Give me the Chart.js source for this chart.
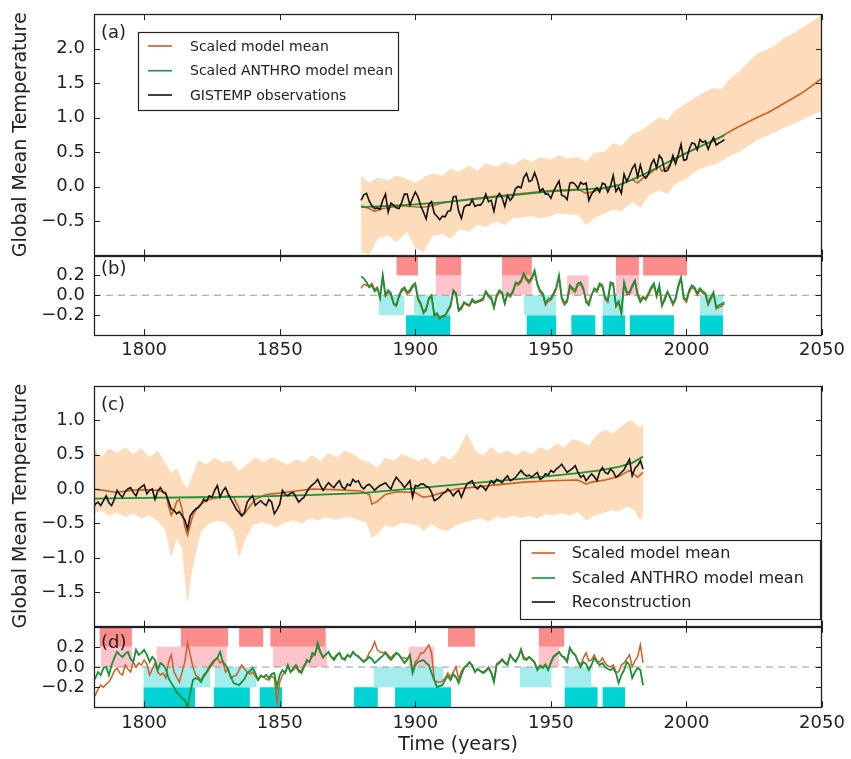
<!DOCTYPE html>
<html>
<head>
<meta charset="utf-8">
<script src="https://cdn.jsdelivr.net/npm/chart.js@4.4.1/dist/chart.umd.min.js"></script>
<style>
  html, body { margin: 0; padding: 0; background: #fff; }
  #wrap { position: relative; width: 851px; height: 759px; overflow: hidden; }
  #wrap canvas { position: absolute; left: 0; }
</style>
</head>
<body>
<div id="wrap">
  <canvas id="panelA" width="851" height="258" style="top:0px"></canvas>
  <canvas id="panelB" width="851" height="122" style="top:250px"></canvas>
  <canvas id="panelC" width="851" height="258" style="top:372px"></canvas>
  <canvas id="panelD" width="851" height="139" style="top:620px"></canvas>
</div>
<script>
// shared x axis
const X_MIN = 1781.5, X_MAX = 2050;
const xTicks = [1800, 1850, 1900, 1950, 2000, 2050];

// ---- panel (a): 1880-2014 observations, model means, ensemble spread ----
const obsStart = 1880;
const gistemp = [
  -0.20, -0.12, -0.10, -0.21, -0.28, -0.32, -0.31, -0.33, -0.20, -0.11,
  -0.37, -0.24, -0.27, -0.31, -0.32, -0.23, -0.11, -0.11, -0.27, -0.17,
  -0.08, -0.15, -0.28, -0.37, -0.47, -0.26, -0.22, -0.39, -0.43, -0.48,
  -0.43, -0.44, -0.36, -0.35, -0.15, -0.14, -0.36, -0.46, -0.30, -0.27,
  -0.27, -0.19, -0.29, -0.27, -0.27, -0.22, -0.11, -0.22, -0.20, -0.36,
  -0.16, -0.10, -0.16, -0.29, -0.13, -0.20, -0.15, -0.03, 0.00, -0.02,
  0.13, 0.19, 0.07, 0.09, 0.20, 0.09, -0.07, -0.03, -0.11, -0.11,
  -0.17, -0.07, 0.01, 0.08, -0.13, -0.14, -0.19, 0.05, 0.06, 0.03,
  -0.03, 0.06, 0.03, 0.05, -0.20, -0.11, -0.06, -0.02, -0.08, 0.05,
  0.03, -0.08, 0.01, 0.16, -0.07, -0.01, -0.10, 0.18, 0.07, 0.16,
  0.26, 0.32, 0.14, 0.31, 0.16, 0.12, 0.18, 0.32, 0.39, 0.27,
  0.45, 0.40, 0.22, 0.23, 0.31, 0.45, 0.33, 0.46, 0.61, 0.38,
  0.39, 0.54, 0.63, 0.62, 0.53, 0.68, 0.64, 0.66, 0.54, 0.64,
  0.71, 0.60, 0.63, 0.65, 0.68
];
const anthroYearsA = [1880, 1890, 1900, 1910, 1920, 1930, 1940, 1950, 1960, 1970, 1975, 1980, 1985, 1990, 1995, 2000, 2005, 2010, 2014];
const anthroA = [-0.30, -0.28, -0.26, -0.23, -0.19, -0.15, -0.11, -0.07, -0.05, -0.02, 0.02, 0.10, 0.19, 0.29, 0.39, 0.49, 0.58, 0.67, 0.74];
const modelYearsA = [1880, 1883, 1885, 1888, 1895, 1902, 1905, 1910, 1920, 1930, 1940, 1950, 1960, 1963, 1966, 1970, 1975, 1980, 1982, 1984,
  1990, 1991, 1993, 1995, 2000, 2005, 2010, 2014, 2018, 2022, 2026, 2030, 2034, 2038, 2042, 2046, 2050];
const modelA = [-0.28, -0.32, -0.36, -0.32, -0.28, -0.30, -0.29, -0.24, -0.18, -0.14, -0.10, -0.06, -0.04, -0.10, -0.07, -0.02, 0.02, 0.10, 0.05, 0.12,
  0.29, 0.22, 0.28, 0.38, 0.48, 0.58, 0.66, 0.75, 0.84, 0.92, 1.00, 1.07, 1.16, 1.25, 1.34, 1.45, 1.57];
const ensYearsA = [1880, 1883, 1886, 1890, 1893, 1897, 1900, 1903, 1906, 1910, 1913, 1916, 1920, 1923, 1926, 1930, 1933, 1936, 1940, 1943,
  1946, 1950, 1953, 1956, 1960, 1963, 1966, 1970, 1973, 1976, 1980, 1983, 1986, 1990, 1993, 1996, 2000, 2003, 2006, 2010,
  2013, 2016, 2020, 2023, 2026, 2030, 2033, 2036, 2040, 2043, 2046, 2050];
const ensUpperA = [0.15, 0.05, 0.12, 0.08, 0.15, 0.10, 0.05, 0.12, 0.18, 0.15, 0.25, 0.20, 0.30, 0.22, 0.33, 0.28, 0.35, 0.30, 0.40, 0.35,
  0.42, 0.38, 0.45, 0.40, 0.42, 0.35, 0.48, 0.50, 0.62, 0.58, 0.75, 0.80, 0.88, 1.00, 0.95, 1.10, 1.20, 1.28, 1.35, 1.42,
  1.40, 1.55, 1.68, 1.80, 1.92, 1.98, 2.05, 2.15, 2.22, 2.30, 2.38, 2.48];
const ensLowerA = [-0.95, -0.98, -0.75, -0.70, -0.80, -0.65, -0.88, -0.95, -0.72, -0.68, -0.75, -0.62, -0.64, -0.55, -0.58, -0.50, -0.55, -0.45, -0.44, -0.42,
  -0.46, -0.42, -0.38, -0.40, -0.40, -0.55, -0.45, -0.38, -0.33, -0.35, -0.22, -0.30, -0.12, -0.05, -0.10, 0.05, 0.12, 0.22, 0.28, 0.32,
  0.38, 0.45, 0.52, 0.60, 0.68, 0.75, 0.80, 0.86, 0.92, 0.98, 1.04, 1.10];

// ---- panel (b): residuals 1880-2014 ----
const residAnthroB = [
  0.19, 0.17, 0.13, 0.08, 0.10, 0.04, 0.07, -0.03, 0.20, 0.00,
  0.05, 0.02, -0.08, -0.10, 0.00, 0.06, 0.08, 0.03, 0.05, 0.10,
  0.12, -0.03, -0.08, -0.18, -0.15, -0.03, 0.00, -0.20, -0.18, -0.23,
  -0.21, -0.20, -0.15, -0.10, 0.05, 0.02, -0.15, -0.12, -0.07, -0.09,
  -0.10, -0.04, -0.07, -0.06, -0.05, -0.03, 0.04, 0.00, -0.02, -0.12,
  0.00, 0.05, 0.03, -0.08, 0.02, 0.00, 0.04, 0.13, 0.12, 0.15,
  0.22, 0.17, 0.14, 0.18, 0.25, 0.12, 0.05, 0.02, -0.08, -0.04,
  -0.03, 0.02, 0.08, 0.20, -0.02, -0.08, -0.05, 0.10, 0.07, 0.05,
  0.12, 0.13, 0.07, -0.07, -0.10, 0.00, 0.07, 0.05, 0.12, 0.10,
  -0.02, -0.05, 0.13, 0.12, -0.10, -0.06, -0.17, 0.13, 0.03, 0.03,
  0.10, 0.15, 0.00, -0.07, -0.03, -0.03, 0.02, 0.08, 0.12, 0.00,
  0.10, -0.10, -0.05, 0.03, -0.02, -0.08, -0.03, 0.10, 0.18, -0.02,
  -0.05, 0.05, 0.10, 0.08, 0.02, 0.07, 0.04, 0.02, -0.08, -0.02,
  0.03, -0.12, -0.10, -0.09, -0.07
];
const residModelB = [
  0.07, 0.11, 0.10, 0.09, 0.12, 0.06, 0.08, -0.01, 0.19, -0.01,
  0.03, 0.00, -0.09, -0.11, -0.02, 0.04, 0.06, 0.01, 0.03, 0.08,
  0.10, -0.05, -0.10, -0.16, -0.13, -0.04, -0.02, -0.21, -0.19, -0.24,
  -0.22, -0.21, -0.16, -0.12, 0.03, 0.01, -0.16, -0.14, -0.08, -0.10,
  -0.11, -0.06, -0.08, -0.07, -0.06, -0.05, 0.03, -0.02, -0.04, -0.13,
  -0.02, 0.03, 0.01, -0.09, 0.01, -0.02, 0.02, 0.11, 0.10, 0.13,
  0.20, 0.15, 0.12, 0.16, 0.23, 0.10, 0.03, 0.00, -0.10, -0.06,
  -0.05, 0.00, 0.06, 0.18, -0.04, -0.10, -0.07, 0.08, 0.05, 0.03,
  0.10, 0.11, 0.05, -0.05, -0.07, 0.01, 0.05, 0.03, 0.10, 0.08,
  -0.04, -0.07, 0.11, 0.10, -0.12, -0.08, -0.19, 0.11, 0.01, 0.01,
  0.08, 0.13, 0.02, -0.04, -0.01, -0.05, 0.00, 0.06, 0.10, -0.02,
  0.08, -0.11, -0.02, 0.04, -0.03, -0.10, -0.05, 0.08, 0.16, -0.04,
  -0.07, 0.03, 0.08, 0.06, 0.00, 0.05, 0.02, 0.00, -0.10, -0.04,
  0.01, -0.14, -0.12, -0.11, -0.09
];
// warm / cool periods (start year, end year)
const warmStrongB = [[1893, 1901], [1907.5, 1917], [1932, 1943], [1974, 1982.5], [1984, 2000.3]];
const warmWeakB = [[1907.5, 1917], [1932, 1943], [1956, 1964], [1974, 1982.5]];
const coolWeakB = [[1886.5, 1896], [1899.5, 1913], [1940, 1952], [1969, 1977], [2005, 2013.5]];
const coolStrongB = [[1896.5, 1913], [1941, 1952], [1957.5, 1966.5], [1969, 1977.5], [1979, 1995.5], [2005, 2013.5]];

// ---- panel (c): reconstruction 1781-1984 ----
const reconStart = 1781;
const reconstruction = [
  -0.29, -0.22, -0.19, -0.24, -0.17, -0.10, -0.20, -0.24, -0.15, -0.02,
  -0.08, -0.12, -0.04, 0.00, 0.02, -0.05, -0.10, 0.00, 0.03, 0.06,
  -0.07, -0.02, 0.00, -0.15, -0.03, 0.02, -0.05, -0.07, -0.18, -0.29,
  -0.31, -0.36, -0.33, -0.39, -0.45, -0.58, -0.39, -0.33, -0.29, -0.27,
  -0.22, -0.15, -0.18, -0.10, -0.12, -0.02, 0.05, -0.12, -0.03, 0.02,
  -0.07, -0.15, -0.22, -0.30, -0.34, -0.39, -0.34, -0.19, -0.14, -0.10,
  -0.24, -0.20, -0.17, -0.21, -0.24, -0.15, -0.19, -0.36, -0.30, -0.22,
  -0.02, -0.08, -0.10, -0.06, -0.05, -0.12, -0.19, -0.15, -0.12, -0.04,
  0.02, 0.06, 0.09, 0.14, 0.05, -0.02, 0.04, 0.09, 0.05, 0.02,
  0.08, 0.12, 0.03, 0.00, 0.07, 0.05, 0.14, 0.10, 0.12, 0.04,
  0.00, 0.05, 0.07, 0.03, -0.02, 0.02, 0.05, 0.07, 0.09, 0.04,
  0.00, 0.10, 0.17, 0.12, 0.08, 0.02, 0.07, 0.12, -0.12, 0.05,
  0.04, 0.07, 0.07, 0.04, 0.02, -0.05, -0.17, -0.15, -0.12, -0.07,
  -0.05, 0.00, -0.04, -0.10, -0.05, -0.02, -0.12, -0.02, 0.07, 0.10,
  0.12, 0.03, 0.00, 0.05, 0.03, -0.02, 0.05, 0.12, 0.08, 0.14,
  0.12, 0.09, 0.15, 0.19, 0.12, 0.14, 0.17, 0.22, 0.27, 0.22,
  0.19, 0.20, 0.17, 0.21, 0.24, 0.14, 0.16, 0.22, 0.20, 0.27,
  0.24, 0.29, 0.32, 0.36, 0.30, 0.24, 0.27, 0.30, 0.34, 0.24,
  0.17, 0.20, 0.12, 0.17, 0.22, 0.18, 0.12, 0.25, 0.31, 0.24,
  0.22, 0.29, 0.25, 0.17, 0.20, 0.24, 0.28, 0.36, 0.43, 0.19,
  0.30, 0.34, 0.41, 0.29
];
const anthroYearsC = [1781, 1800, 1820, 1840, 1860, 1880, 1900, 1920, 1940, 1950, 1960, 1968, 1975, 1980, 1984];
const anthroC = [-0.14, -0.13, -0.12, -0.11, -0.09, -0.06, 0.01, 0.08, 0.15, 0.19, 0.23, 0.27, 0.32, 0.38, 0.47];
const modelYearsC = [1781, 1785, 1790, 1795, 1800, 1805, 1808, 1809, 1810, 1811, 1812, 1813, 1814, 1815, 1816, 1817, 1818, 1820, 1823, 1828,
  1831, 1833, 1835, 1836, 1837, 1839, 1841, 1845, 1850, 1856, 1862, 1870, 1880, 1883, 1884, 1886, 1889, 1893, 1900, 1902,
  1903, 1906, 1910, 1915, 1920, 1925, 1930, 1940, 1950, 1960, 1963, 1965, 1970, 1975, 1979, 1981, 1982, 1984];
const modelC = [0.00, -0.02, -0.05, -0.02, -0.01, -0.02, -0.05, -0.25, -0.38, -0.30, -0.18, -0.15, -0.30, -0.55, -0.67, -0.52, -0.38, -0.25, -0.16, -0.12,
  -0.10, -0.12, -0.28, -0.39, -0.36, -0.25, -0.15, -0.08, -0.06, -0.03, 0.00, -0.01, -0.03, -0.08, -0.22, -0.18, -0.08, -0.04, -0.05, -0.10,
  -0.12, -0.10, -0.05, 0.00, 0.02, 0.04, 0.06, 0.10, 0.12, 0.13, 0.07, 0.10, 0.13, 0.18, 0.27, 0.20, 0.17, 0.24];
const ensUpperYearsC = [1781, 1784, 1787, 1790, 1793, 1796, 1799, 1802, 1805, 1808, 1810, 1812, 1814, 1816, 1818, 1820, 1823, 1826, 1829, 1832,
  1835, 1838, 1841, 1844, 1847, 1850, 1853, 1856, 1859, 1862, 1865, 1868, 1871, 1874, 1877, 1880, 1883, 1886, 1889, 1892,
  1895, 1898, 1901, 1904, 1907, 1910, 1913, 1916, 1919, 1922, 1925, 1928, 1931, 1934, 1937, 1940, 1943, 1946, 1949, 1952,
  1955, 1958, 1961, 1964, 1967, 1970, 1973, 1976, 1979, 1981, 1983, 1984];
const ensUpperC = [0.60, 0.45, 0.58, 0.52, 0.60, 0.50, 0.58, 0.45, 0.55, 0.35, 0.22, 0.30, 0.10, 0.00, 0.20, 0.41, 0.35, 0.45, 0.38, 0.40,
  0.25, 0.35, 0.45, 0.38, 0.45, 0.40, 0.35, 0.42, 0.38, 0.48, 0.40, 0.52, 0.45, 0.55, 0.50, 0.42, 0.38, 0.30, 0.45, 0.40,
  0.50, 0.45, 0.40, 0.45, 0.35, 0.48, 0.42, 0.55, 0.80, 0.55, 0.48, 0.60, 0.50, 0.55, 0.48, 0.55, 0.50, 0.60, 0.55, 0.65,
  0.60, 0.72, 0.68, 0.62, 0.78, 0.85, 0.80, 0.90, 0.99, 0.95, 0.88, 0.95];
const ensLowerYearsC = [1781, 1784, 1787, 1790, 1793, 1796, 1799, 1802, 1805, 1808, 1810, 1812, 1814, 1816, 1817, 1819, 1821, 1824, 1827, 1830,
  1833, 1835, 1837, 1840, 1843, 1846, 1849, 1852, 1855, 1858, 1861, 1864, 1867, 1870, 1873, 1876, 1879, 1882, 1884, 1886,
  1889, 1892, 1895, 1898, 1901, 1903, 1906, 1909, 1912, 1915, 1918, 1921, 1924, 1927, 1930, 1933, 1936, 1939, 1942, 1945,
  1948, 1951, 1954, 1957, 1960, 1963, 1966, 1969, 1972, 1975, 1978, 1981, 1983, 1984];
const ensLowerC = [-0.36, -0.30, -0.38, -0.33, -0.40, -0.35, -0.42, -0.38, -0.46, -0.60, -0.97, -0.70, -0.85, -1.62, -1.30, -0.90, -0.60, -0.50, -0.45, -0.48,
  -0.60, -0.97, -0.75, -0.52, -0.48, -0.50, -0.55, -0.48, -0.45, -0.50, -0.42, -0.45, -0.40, -0.44, -0.42, -0.40, -0.45, -0.48, -0.70, -0.65,
  -0.52, -0.55, -0.48, -0.50, -0.52, -0.60, -0.50, -0.58, -0.60, -0.52, -0.48, -0.45, -0.42, -0.47, -0.40, -0.42, -0.38, -0.42, -0.38, -0.42,
  -0.36, -0.38, -0.35, -0.38, -0.33, -0.45, -0.38, -0.35, -0.30, -0.32, -0.25, -0.30, -0.45, -0.35];

// ---- panel (d): residuals 1781-1984 ----
const residAnthroD = [
  -0.14, -0.11, -0.05, -0.08, -0.01, 0.00, -0.08, 0.02, 0.09, 0.15,
  0.12, 0.10, 0.13, 0.15, 0.08, 0.05, 0.17, 0.12, 0.14, 0.17,
  0.12, 0.05, 0.10, 0.07, -0.03, 0.04, 0.02, -0.02, -0.11, -0.16,
  -0.20, -0.25, -0.28, -0.31, -0.33, -0.40, -0.26, -0.13, -0.11, -0.12,
  -0.15, -0.08, -0.05, 0.00, 0.04, 0.07, 0.09, 0.15, 0.05, 0.02,
  -0.03, -0.10, -0.16, -0.17, -0.18, -0.15, -0.12, -0.06, -0.04, -0.01,
  -0.06, -0.13, -0.09, -0.10, -0.08, -0.11, -0.07, -0.06, -0.20, -0.08,
  -0.03, -0.06, 0.02, -0.05, -0.01, 0.02, -0.03, -0.06, 0.00, 0.07,
  0.05, 0.14, 0.12, 0.24, 0.15, 0.10, 0.12, 0.15, 0.10, 0.07,
  0.11, 0.14, 0.09, 0.07, 0.12, 0.10, 0.15, 0.12, 0.10, 0.08,
  0.05, 0.07, 0.10, 0.08, 0.04, 0.06, 0.09, 0.11, 0.14, 0.10,
  0.07, 0.10, 0.14, 0.12, 0.08, 0.04, 0.07, 0.12, -0.06, 0.02,
  0.05, 0.06, 0.07, 0.04, 0.02, -0.06, -0.13, -0.20, -0.19, -0.18,
  -0.13, -0.09, -0.13, -0.07, -0.10, -0.16, -0.08, -0.01, 0.02, 0.05,
  0.01, -0.05, -0.02, -0.04, -0.06, -0.04, -0.01, -0.06, -0.15, 0.02,
  0.04, 0.07, 0.04, 0.02, 0.12, 0.08, 0.05, 0.10, 0.17, 0.08,
  0.07, 0.10, 0.07, 0.04, -0.03, 0.01, -0.01, 0.02, -0.03, 0.04,
  0.10, 0.12, 0.15, 0.11, 0.09, 0.05, 0.19, 0.14, 0.12, 0.05,
  0.00, 0.05, 0.03, -0.03, 0.02, 0.09, 0.05, 0.02, 0.04, 0.00,
  -0.02, -0.03, -0.01, -0.06, -0.16, -0.08, -0.03, 0.05, 0.02, -0.11,
  -0.05, -0.01, -0.03, -0.18
];
const residModelD = [
  -0.30, -0.28, -0.22, -0.18, -0.20, -0.17, -0.15, -0.10, -0.04, -0.01,
  -0.06, -0.08, 0.02, -0.02, -0.05, 0.05, 0.00, 0.04, 0.02, 0.07,
  0.03, -0.08, -0.02, 0.04, -0.05, -0.08, -0.06, -0.11, 0.05, 0.12,
  -0.05, -0.10, -0.15, -0.05, 0.05, 0.24, 0.12, 0.00, -0.08, -0.10,
  -0.13, -0.10, -0.06, -0.02, 0.02, 0.06, 0.09, 0.04, 0.06, -0.05,
  -0.02, -0.11, -0.09, -0.08, -0.03, 0.02, -0.02, -0.05, -0.07, -0.05,
  -0.09, -0.13, -0.08, -0.10, -0.12, -0.13, -0.09, -0.11, -0.35, -0.15,
  -0.08, -0.05, 0.00, -0.05, -0.03, 0.00, -0.05, -0.03, 0.02, 0.05,
  0.06, 0.10, 0.14, 0.20, 0.14, 0.09, 0.13, 0.14, 0.10, 0.09,
  0.12, 0.14, 0.08, 0.09, 0.12, 0.10, 0.14, 0.12, 0.11, 0.07,
  0.06, 0.08, 0.14, 0.18, 0.25, 0.17, 0.15, 0.14, 0.15, 0.12,
  0.09, 0.12, 0.14, 0.12, 0.09, 0.09, 0.08, 0.12, -0.05, 0.05,
  0.08, 0.14, 0.14, 0.18, 0.22, 0.14, -0.13, -0.15, -0.15, -0.14,
  -0.11, -0.06, -0.10, -0.05, 0.00, -0.12, -0.04, 0.00, 0.01, 0.04,
  0.02, -0.04, -0.02, -0.04, -0.05, -0.03, 0.00, -0.05, -0.13, 0.03,
  0.05, 0.08, 0.05, 0.03, 0.12, 0.08, 0.06, 0.10, 0.18, 0.10,
  0.08, 0.10, 0.08, 0.05, -0.02, 0.02, 0.00, 0.03, -0.02, 0.05,
  0.11, 0.13, 0.15, 0.11, 0.10, 0.06, 0.19, 0.15, 0.12, 0.06,
  0.02, 0.09, 0.14, 0.06, 0.07, 0.12, 0.06, 0.05, 0.09, 0.04,
  0.01, 0.00, 0.02, -0.05, -0.05, 0.02, 0.04, 0.08, 0.12, 0.00,
  0.06, 0.10, 0.22, 0.04
];
const warmStrongD = [[1783.5, 1795.5], [1813.5, 1831], [1835, 1844], [1846.5, 1867], [1912, 1922], [1945.5, 1955]];
const warmWeakD = [[1784, 1795.5], [1804.5, 1830.5], [1847.5, 1867.5], [1897.5, 1907], [1945.5, 1953]];
const coolWeakD = [[1799.7, 1824.3], [1826, 1841.5], [1884.6, 1910.4], [1938.6, 1950.3], [1955, 1965]];
const coolStrongD = [[1799.7, 1818.8], [1825.6, 1839], [1842.5, 1851], [1877.4, 1886.2], [1892.5, 1913.2], [1955, 1967.3], [1969, 1977.4]];

const ORANGE = '#cc5f26', GREEN = '#1a9038', BLACK = '#111111', PEACH = '#fddcbb';

Chart.defaults.font.family = '"DejaVu Sans", sans-serif';
Chart.defaults.color = '#222';

function yearsFrom(start, n) {
  const out = [];
  for (let i = 0; i < n; i++) out.push(start + i);
  return out;
}

function series(xs, ys, color, width, order) {
  return {
    data: xs.map((x, i) => ({x: x, y: ys[i]})),
    borderColor: color, borderWidth: width, pointRadius: 0,
    fill: false, tension: 0, order: order
  };
}

function band(xsUp, up, xsLow, low) {
  return [
    { data: xsUp.map((x, i) => ({x: x, y: up[i]})), borderColor: PEACH, borderWidth: 1,
      backgroundColor: PEACH, pointRadius: 0, fill: '+1', tension: 0, order: 15 },
    { data: xsLow.map((x, i) => ({x: x, y: low[i]})), borderColor: PEACH, borderWidth: 1,
      pointRadius: 0, fill: false, tension: 0, order: 15 }
  ];
}

function blocks(spans, lo, hi, color) {
  return spans.map(s => ({
    data: [{x: s[0], y: hi}, {x: s[1], y: hi}],
    borderWidth: 0, borderColor: color, backgroundColor: color,
    pointRadius: 0, fill: {value: lo}, order: 20
  }));
}

function zeroLine() {
  return { data: [{x: X_MIN, y: 0}, {x: X_MAX, y: 0}], borderColor: '#999', borderWidth: 1.2,
    borderDash: [7, 5], pointRadius: 0, fill: false, order: 10 };
}

const fmtY = v => (v < 0 ? '\u2212' : '') + Math.abs(v).toFixed(1);

// frame with inward ticks, panel letter and legend box
const panelDecor = {
  id: 'panelDecor',
  afterDatasetsDraw(chart, args, opts) {
    const {ctx, chartArea: a, scales: {x, y}} = chart;
    const TL = 6;
    ctx.save();
    ctx.strokeStyle = '#222';
    ctx.lineWidth = 1;
    ctx.beginPath();
    xTicks.forEach(v => {
      const px = Math.round(x.getPixelForValue(v)) + 0.5;
      ctx.moveTo(px, a.top); ctx.lineTo(px, a.top + TL);
      ctx.moveTo(px, a.bottom); ctx.lineTo(px, a.bottom - TL);
    });
    y.ticks.forEach(t => {
      const py = Math.round(y.getPixelForValue(t.value)) + 0.5;
      ctx.moveTo(a.left, py); ctx.lineTo(a.left + TL, py);
      ctx.moveTo(a.right, py); ctx.lineTo(a.right - TL, py);
    });
    ctx.stroke();
    ctx.lineWidth = 1.3;
    ctx.strokeRect(Math.round(a.left) + 0.5, Math.round(a.top) + 0.5,
      Math.round(a.right - a.left) - 1, Math.round(a.bottom - a.top) - 1);

    ctx.fillStyle = '#222';
    ctx.font = '18px "DejaVu Sans"';
    ctx.textBaseline = 'middle';
    ctx.textAlign = 'left';
    ctx.fillText(opts.label, a.left + 7, a.top + opts.labelDy);

    const L = opts.legend;
    if (L) {
      const bx = a.left + L.dx, by = a.top + L.dy;
      ctx.fillStyle = '#fff';
      ctx.fillRect(bx, by, L.w, L.h);
      ctx.lineWidth = 1.2;
      ctx.strokeStyle = '#222';
      ctx.strokeRect(Math.round(bx) + 0.5, Math.round(by) + 0.5, L.w, L.h);
      ctx.font = L.font + 'px "DejaVu Sans"';
      L.items.forEach((it, i) => {
        const ry = by + L.rows[i];
        ctx.strokeStyle = it.color;
        ctx.lineWidth = 1.6;
        ctx.beginPath();
        ctx.moveTo(bx + L.x0, ry); ctx.lineTo(bx + L.x1, ry);
        ctx.stroke();
        ctx.fillStyle = '#222';
        ctx.fillText(it.text, bx + L.tx, ry + 1);
      });
    }
    ctx.restore();
  }
};

function makePanel(id, cfg) {
  return new Chart(document.getElementById(id), {
    type: 'line',
    data: { datasets: cfg.datasets },
    options: {
      responsive: false,
      animation: false,
      events: [],
      layout: { padding: cfg.padding },
      scales: {
        x: {
          type: 'linear', min: X_MIN, max: X_MAX, display: cfg.showX,
          grid: { display: false, drawTicks: false }, border: { display: false },
          afterBuildTicks: s => { s.ticks = xTicks.map(v => ({value: v})); },
          afterFit: s => {
            if (cfg.xHeight) s.height = cfg.xHeight;
            s.paddingLeft = 0; s.paddingRight = 0;
          },
          ticks: { autoSkip: false, maxRotation: 0, padding: 5, font: { size: 18 }, color: '#222',
                   callback: v => String(v) },
          title: { display: !!cfg.xTitle, text: 'Time (years)', font: { size: 19 }, color: '#222',
                   padding: { top: 0, bottom: 3 } }
        },
        y: {
          min: cfg.yMin, max: cfg.yMax,
          grid: { display: false, drawTicks: false }, border: { display: false },
          afterBuildTicks: s => { s.ticks = cfg.yTicks.map(v => ({value: v})); },
          afterFit: s => { s.width = 94; s.paddingTop = 0; s.paddingBottom = 0; },
          ticks: { autoSkip: false, padding: 9, font: { size: 18 }, color: '#222', callback: fmtY },
          title: { display: !!cfg.yTitle, text: 'Global Mean Temperature', font: { size: 19 }, color: '#222',
                   padding: { top: 10, bottom: 0 } }
        }
      },
      plugins: {
        legend: { display: false },
        tooltip: { enabled: false },
        panelDecor: cfg.decor
      }
    },
    plugins: [panelDecor]
  });
}

const obsYears = yearsFrom(obsStart, gistemp.length);
const reconYears = yearsFrom(reconStart, reconstruction.length);

makePanel('panelA', {
  padding: { top: 14, bottom: 2.5, left: 0, right: 29 },
  showX: false, yMin: -1, yMax: 2.5, yTicks: [-0.5, 0, 0.5, 1, 1.5, 2], yTitle: true,
  datasets: [
    ...band(ensYearsA, ensUpperA, ensYearsA, ensLowerA),
    series(modelYearsA, modelA, ORANGE, 1.6, 3),
    series(anthroYearsA, anthroA, GREEN, 1.8, 2),
    series(obsYears, gistemp, BLACK, 1.6, 1)
  ],
  decor: {
    label: '(a)', labelDy: 19,
    legend: { dx: 44, dy: 17.7, w: 260, h: 78, font: 14, rows: [14.3, 39, 63.3], x0: 10, x1: 34, tx: 52,
      items: [ {text: 'Scaled model mean', color: ORANGE},
               {text: 'Scaled ANTHRO model mean', color: GREEN},
               {text: 'GISTEMP observations', color: BLACK} ] }
  }
});

makePanel('panelB', {
  padding: { top: 5.5, bottom: 0, left: 0, right: 29 },
  showX: true, xHeight: 37, yMin: -0.4, yMax: 0.4, yTicks: [-0.2, 0, 0.2],
  datasets: [
    ...blocks(warmStrongB, 0.2, 0.4, '#fd8c8c'),
    ...blocks(warmWeakB, 0, 0.2, '#ffc3cc'),
    ...blocks(coolWeakB, -0.2, 0, '#a3eded'),
    ...blocks(coolStrongB, -0.4, -0.2, '#00d3d3'),
    zeroLine(),
    series(obsYears, residModelB, ORANGE, 1.5, 3),
    series(obsYears, residAnthroB, GREEN, 1.8, 2)
  ],
  decor: { label: '(b)', labelDy: 13.5 }
});

makePanel('panelC', {
  padding: { top: 13.7, bottom: 3.3, left: 0, right: 29 },
  showX: false, yMin: -2, yMax: 1.5, yTicks: [-1.5, -1, -0.5, 0, 0.5, 1], yTitle: true,
  datasets: [
    ...band(ensUpperYearsC, ensUpperC, ensLowerYearsC, ensLowerC),
    series(modelYearsC, modelC, ORANGE, 1.6, 3),
    series(anthroYearsC, anthroC, GREEN, 1.8, 2),
    series(reconYears, reconstruction, BLACK, 1.6, 1)
  ],
  decor: {
    label: '(c)', labelDy: 19.5,
    legend: { dx: 426, dy: 154.3, w: 300, h: 79, font: 16, rows: [13, 38, 62], x0: 11.7, x1: 35, tx: 51.7,
      items: [ {text: 'Scaled model mean', color: ORANGE},
               {text: 'Scaled ANTHRO model mean', color: GREEN},
               {text: 'Reconstruction', color: BLACK} ] }
  }
});

makePanel('panelD', {
  padding: { top: 6.7, bottom: 0, left: 0, right: 29 },
  showX: true, xHeight: 51.7, xTitle: true, yMin: -0.4, yMax: 0.4, yTicks: [-0.2, 0, 0.2],
  datasets: [
    ...blocks(warmStrongD, 0.2, 0.4, '#fd8c8c'),
    ...blocks(warmWeakD, 0, 0.2, '#ffc3cc'),
    ...blocks(coolWeakD, -0.2, 0, '#a3eded'),
    ...blocks(coolStrongD, -0.4, -0.2, '#00d3d3'),
    zeroLine(),
    series(reconYears, residModelD, ORANGE, 1.5, 3),
    series(reconYears, residAnthroD, GREEN, 1.8, 2)
  ],
  decor: { label: '(d)', labelDy: 16.5 }
});
</script>
</body>
</html>
